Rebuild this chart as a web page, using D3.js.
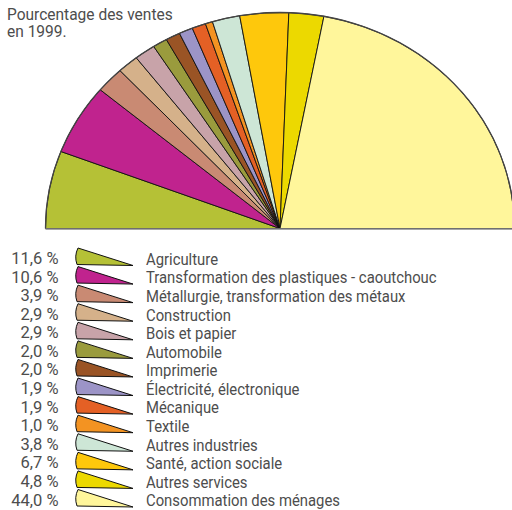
<!DOCTYPE html>
<html><head><meta charset="utf-8">
<script src="https://cdn.jsdelivr.net/npm/d3@7"></script>
<style>body{margin:0;background:#fff}svg{display:block}text{font-family:Roboto,"Open Sans",sans-serif;fill:#4d4d4d}</style>
</head><body><svg id="c" width="512" height="510"></svg>
<script>
const categories = ["Agriculture","Transformation des plastiques - caoutchouc","Métallurgie, transformation des métaux","Construction","Bois et papier","Automobile","Imprimerie","Électricité, électronique","Mécanique","Textile","Autres industries","Santé, action sociale","Autres services","Consommation des ménages"];
const values = [11.6,10.6,3.9,2.9,2.9,2.0,2.0,1.9,1.9,1.0,3.8,6.7,4.8,44.0];
const valueLabels = ["11,6 %","10,6 %","3,9 %","2,9 %","2,9 %","2,0 %","2,0 %","1,9 %","1,9 %","1,0 %","3,8 %","6,7 %","4,8 %","44,0 %"];
const colors = ["#b5c136","#c0238e","#c98a73","#d5b18a","#c8a3a9","#9a9b3d","#9a5425","#9c94c7","#e46025","#f39322","#cde6d6","#fec80c","#ecd900","#fff69b"];
const title = ["Pourcentage des ventes","en 1999."];

const svg = d3.select("#c");
const cx = 280, cy = 228.5, rx = 234.5, ry = 216;
const pie = d3.pie().sort(null).startAngle(-Math.PI/2).endAngle(Math.PI/2);
const arcs = pie(values);
const pt = a => [cx + rx*Math.sin(a), cy - ry*Math.cos(a)];
function slicePath(d){
  const p0 = pt(d.startAngle), p1 = pt(d.endAngle);
  const large = (d.endAngle - d.startAngle) > Math.PI ? 1 : 0;
  return `M${cx},${cy}L${p0[0]},${p0[1]}A${rx},${ry} 0 ${large} 1 ${p1[0]},${p1[1]}Z`;
}
svg.append("g").selectAll("path").data(arcs).join("path")
  .attr("d", slicePath).attr("fill", (d,i)=>colors[i])
  .attr("stroke", "#111").attr("stroke-width", 0.9).attr("stroke-linejoin","round");
svg.append("path")
  .attr("d", `M${cx-rx},${cy}A${rx},${ry} 0 0 1 ${cx+rx},${cy}`)
  .attr("fill","none").attr("stroke","#444").attr("stroke-width",1.3);
svg.append("line").attr("x1",cx-rx).attr("x2",cx+rx).attr("y1",cy+0.5).attr("y2",cy+0.5)
  .attr("stroke","#888").attr("stroke-width",1.5);

svg.append("g").selectAll("text").data(title).join("text")
  .attr("transform",(d,i)=>`translate(7,${19.5+i*17.5}) scale(0.97,1)`).style("font-size","16px").text(d=>d);

const y = d3.scalePoint().domain(d3.range(categories.length)).range([264, 505.5]);
const leg = svg.append("g").selectAll("g").data(categories).join("g")
  .attr("transform",(d,i)=>`translate(0,${y(i)})`);
leg.append("text").attr("x",58.5).attr("text-anchor","end").style("font-size","16.5px").text((d,i)=>valueLabels[i]);
leg.append("path").attr("d","M78,-16Q74,-8 77,0.5L133,1.5Z")
  .attr("fill",(d,i)=>colors[i]).attr("stroke","#111").attr("stroke-width",1).attr("stroke-linejoin","round");
leg.append("text").attr("transform","translate(146,0.8) scale(0.9,1)").style("font-size","16.5px").text(d=>d);
</script></body></html>
